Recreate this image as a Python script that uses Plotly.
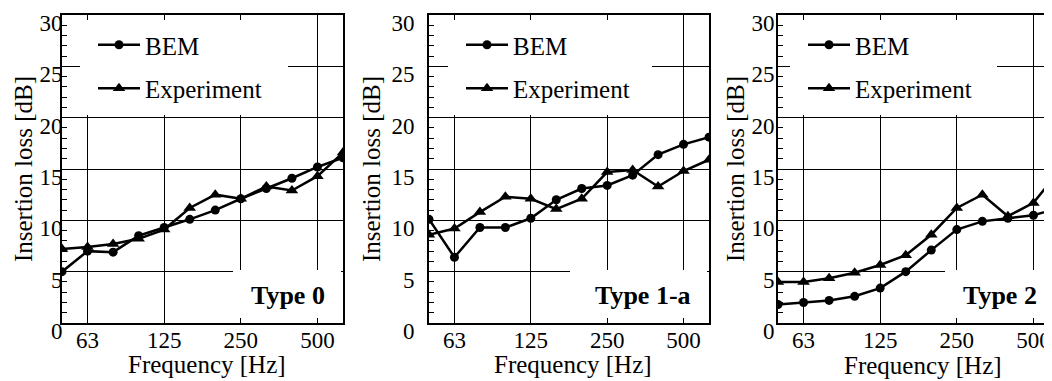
import plotly.graph_objects as go

freq_bands = ["50", "63", "80", "100", "125", "160", "200", "250", "315", "400", "500", "630"]
tick_labels = ["63", "125", "250", "500"]
y_ticks = [0, 5, 10, 15, 20, 25, 30]
panel_names = ["Type 0", "Type 1-a", "Type 2"]

bem_type0 = [5.0, 7.0, 6.9, 8.5, 9.3, 10.1, 11.0, 12.1, 13.1, 14.1, 15.2, 16.1]
exp_type0 = [7.2, 7.4, 7.7, 8.2, 9.1, 11.2, 12.5, 12.1, 13.3, 12.9, 14.3, 16.6]
bem_type1a = [10.1, 6.4, 9.3, 9.3, 10.2, 12.0, 13.1, 13.4, 14.4, 16.4, 17.4, 18.1]
exp_type1a = [8.6, 9.2, 10.8, 12.3, 12.1, 11.1, 12.1, 14.7, 14.9, 13.3, 14.8, 15.9]
bem_type2 = [1.8, 2.0, 2.2, 2.6, 3.4, 5.0, 7.1, 9.1, 9.9, 10.2, 10.5, 11.2]
exp_type2 = [4.0, 4.0, 4.35, 4.9, 5.65, 6.6, 8.6, 11.2, 12.5, 10.4, 11.7, 14.8]

FONT = "Liberation Serif"
OFF = 8                # page body margin
FW, FH = 1044, 373     # figure size so that it ends at the window edge

bem_all = [bem_type0, bem_type1a, bem_type2]
exp_all = [exp_type0, exp_type1a, exp_type2]

# screen-pixel layout of each panel (left, right); the third is cut by the window
panels_px = [(62, 343), (429, 709), (778, 1059)]
plot_top, plot_bot = 15, 323
SCREEN_W = 1052


def px_x(p):
    return (p - OFF) / FW


def px_y(p):
    return (FH - (p - OFF)) / FH


legend_names = ["legend", "legend2", "legend3"]
legend_box = [(80, 288), (448, 652), (790, 997)]
ytick_standoff = [-7, 8, -3]
ytitle_standoff = [0, 4, 0]
box_left = [233, 570, 945]
label_cx = [288, 643, 1000]
xtitle_pos = [(207, 364), (573, 364), (923, 365)]

fig = go.Figure()

for i in range(3):
    ax_sfx = "" if i == 0 else str(i + 1)
    xa = "x" + ax_sfx
    ya = "y" + ax_sfx
    lg = legend_names[i]
    fig.add_trace(go.Scatter(
        x=freq_bands, y=bem_all[i], name="BEM", mode="lines+markers",
        line=dict(color="black", width=2.5),
        marker=dict(symbol="circle", size=9, color="black"),
        xaxis=xa, yaxis=ya, legend=lg, legendgroup="bem%d" % i,
    ))
    fig.add_trace(go.Scatter(
        x=freq_bands, y=exp_all[i], name="Experiment", mode="lines+markers",
        line=dict(color="black", width=2.5),
        marker=dict(symbol="triangle-up", size=11, color="black"),
        xaxis=xa, yaxis=ya, legend=lg, legendgroup="exp%d" % i,
    ))

    left, right = panels_px[i]
    n = len(freq_bands) - 1
    vis_right = min(right, SCREEN_W)
    xmax = n * (vis_right - left) / (right - left)

    fig.layout["xaxis" + ax_sfx] = dict(
        domain=[px_x(left), px_x(vis_right)], type="category", range=[0, xmax],
        tickmode="array", tickvals=tick_labels, ticktext=tick_labels,
        ticks="inside", ticklen=4, tickwidth=1, tickcolor="black",
        showline=True, linecolor="black", linewidth=2, mirror=True,
        showgrid=True, gridcolor="black", gridwidth=1,
        tickfont=dict(family=FONT, size=23, color="black"),
        ticklabelstandoff=-5,
        anchor=ya, fixedrange=True, automargin=False,
    )
    fig.layout["yaxis" + ax_sfx] = dict(
        domain=[px_y(plot_bot), px_y(plot_top)], range=[0, 30],
        tickmode="array", tickvals=y_ticks,
        ticks="inside", ticklen=5, tickwidth=1, tickcolor="black",
        minor=dict(dtick=1, ticks="inside", ticklen=5, tickcolor="black", showgrid=False),
        showline=True, linecolor="black", linewidth=2, mirror=True,
        showgrid=True, gridcolor="black", gridwidth=1, zeroline=False,
        tickfont=dict(family=FONT, size=23, color="black"),
        ticklabelshift=8, ticklabelstandoff=ytick_standoff[i],
        title=dict(text="Insertion loss [dB]", font=dict(family=FONT, size=25, color="black"),
                   standoff=ytitle_standoff[i]),
        anchor=xa, fixedrange=True, automargin=False,
    )

    # x-axis title, placed where the original has it
    tx, ty = xtitle_pos[i]
    fig.add_annotation(
        text="Frequency [Hz]", xref="paper", yref="paper",
        x=px_x(tx), y=px_y(ty), xanchor="center", yanchor="middle",
        showarrow=False, font=dict(family=FONT, size=25, color="black"),
    )

    # white area of the key (hides the grid under it, as in the original)
    bl, br = legend_box[i]
    fig.add_shape(type="rect", xref="paper", yref="paper",
                  x0=px_x(bl), x1=px_x(br), y0=px_y(115), y1=px_y(20),
                  fillcolor="white", line=dict(width=0), layer="above")
    fig.layout[lg] = dict(
        x=px_x(bl + 13), y=px_y(22), xanchor="left", yanchor="top",
        bgcolor="rgba(0,0,0,0)", borderwidth=0,
        font=dict(family=FONT, size=25, color="black"),
        itemwidth=42, tracegroupgap=8, traceorder="grouped",
    )

    # white patch behind the panel label
    fig.add_shape(type="rect", xref="paper", yref="paper",
                  x0=px_x(box_left[i]), x1=px_x(min(right - 2, SCREEN_W)),
                  y0=px_y(318), y1=px_y(270),
                  fillcolor="white", line=dict(width=0), layer="above")
    fig.add_annotation(
        text="<b>%s</b>" % panel_names[i], xref="paper", yref="paper",
        x=px_x(label_cx[i]), y=px_y(295), xanchor="center", yanchor="middle",
        showarrow=False, font=dict(family=FONT, size=26, color="black"),
    )

fig.update_layout(
    width=FW, height=FH, margin=dict(l=0, r=0, t=0, b=0),
    paper_bgcolor="white", plot_bgcolor="white",
    showlegend=True,
)

fig.write_html("out.html", config={"displayModeBar": False})
